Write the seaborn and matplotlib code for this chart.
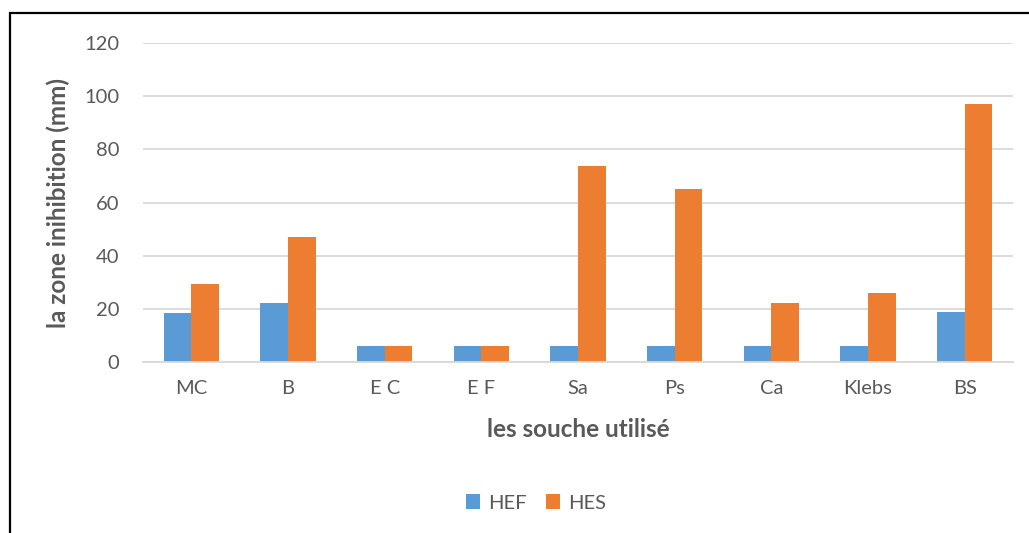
import matplotlib
matplotlib.use("Agg")
import matplotlib.pyplot as plt
import seaborn as sns
import pandas as pd
from matplotlib.patches import Rectangle, Patch

categories = ["MC", "B", "E C", "E F", "Sa", "Ps", "Ca", "Klebs", "BS"]
hef = [18.3, 22.1, 6, 6, 6, 6, 6, 6, 18.8]
hes = [29.2, 47, 6, 6, 73.6, 64.9, 22.3, 26, 97]
series = ["HEF", "HES"]
colors = ["#5B9BD5", "#ED7D31"]

df = pd.DataFrame({
    "souche": categories * 2,
    "valeur": hef + hes,
    "serie": [series[0]] * len(categories) + [series[1]] * len(categories),
})

sns.set_theme(style="white")
plt.rcParams["font.family"] = ["Lato", "DejaVu Sans"]
W, H = 1029, 533
fig = plt.figure(figsize=(W / 100, H / 100), dpi=100)
ax = fig.add_axes([143 / W, 1 - 362 / H, (1013 - 143) / W, (362 - 43) / H])

sns.barplot(data=df, x="souche", y="valeur", hue="serie", order=categories,
            hue_order=series, palette=colors, width=0.572, ax=ax,
            saturation=1, edgecolor="none", legend=False)

ax.set_ylim(0, 120)
ax.set_xlim(-0.5, len(categories) - 0.5)
ax.set_yticks(range(0, 121, 20))
ax.yaxis.grid(True, color="#D9D9D9", linewidth=1.3)
ax.set_axisbelow(True)
for s in ["left", "right", "top"]:
    ax.spines[s].set_visible(False)
ax.spines["bottom"].set_color("#D9D9D9")
ax.spines["bottom"].set_linewidth(1.3)
ax.tick_params(axis="both", length=0, labelsize=14.5, labelcolor="#595959")
ax.tick_params(axis="x", pad=13)
ax.tick_params(axis="y", pad=17)
ax.set_xlabel("les souche utilisé", fontsize=17.5, fontweight="bold",
              color="#595959", labelpad=15)
ax.set_ylabel("la zone inihibition (mm)", fontsize=17.5, fontweight="bold",
              color="#595959", labelpad=10)

handles = [Patch(facecolor=c, edgecolor="none") for c in colors]
fig.legend(handles, series, loc="center", bbox_to_anchor=(536 / W, 1 - 503 / H),
           ncol=2, frameon=False, fontsize=14.5, labelcolor="#595959",
           handlelength=0.7, handleheight=0.7, handletextpad=0.4,
           columnspacing=1.0)

fig.patches.append(Rectangle((10 / W, -0.1), 1.2, 1 - 13 / H + 0.1,
                             transform=fig.transFigure, fill=False,
                             edgecolor="#000000", linewidth=1.6))

fig.savefig("out.png", dpi=100)
